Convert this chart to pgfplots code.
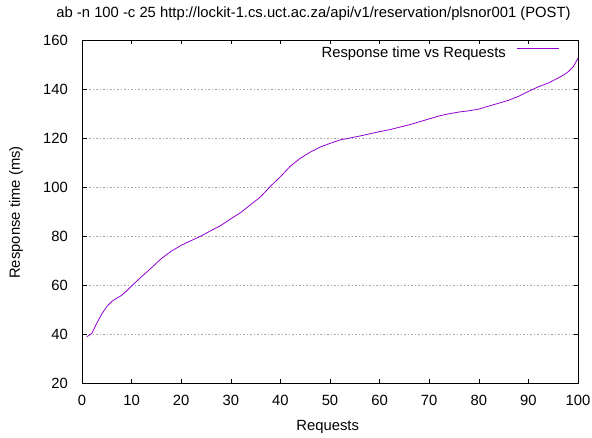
\documentclass[border=0pt]{standalone}
\usepackage{pgfplots}
\pgfplotsset{compat=1.18}
\usepackage{fontspec}
\setmainfont{Liberation Sans}
\definecolor{gpviolet}{HTML}{9400D3}
\begin{document}
\begin{tikzpicture}[font=\fontsize{14.8}{17.8}\selectfont]
\useasboundingbox (-82pt,-54pt) rectangle (510pt,383pt);
\begin{axis}[
  at={(0pt,0pt)}, anchor=south west,
  scale only axis, width=496pt, height=343pt,
  xmin=0, xmax=100, ymin=20, ymax=160,
  xtick={0,10,...,100}, ytick={20,40,...,160},
  /pgf/number format/assume math mode=true,
  tick align=inside, major tick length=4.5pt,
  xtick pos=both, ytick pos=both,
  tick style={black, line width=0.6pt},
  axis line style={black, line width=0.8pt},
  ymajorgrids,
  major grid style={gray!70, line width=0.6pt, dash pattern=on 1.5pt off 2pt},
  yticklabel style={anchor=east, inner sep=0pt, xshift=-14pt},
  xticklabel style={anchor=north, inner sep=0pt, yshift=-12pt},
  legend plot pos=right,
  legend cell align=right,
  legend style={draw=none, fill=none, inner sep=0pt, at={(1,1)}, anchor=north east,
    xshift=-18pt, yshift=-7pt, column sep=11pt, nodes={inner sep=0pt}},
  legend image code/.code={\draw[gpviolet, line width=0.9pt] (0pt,4.4pt) -- (42pt,4.4pt);},
]
\addplot[gpviolet, line width=0.8pt, no marks] coordinates {
(1,38.9) (2,40.3) (3,44.5) (4,48.2) (5,51.2) (6,53.3) (7,54.6) (8,55.8) (9,57.6)
(10,59.6) (12,63.4) (14,67.0) (16,70.8) (18,73.8) (20,76.2) (22,78.1) (24,80.0)
(26,82.2) (28,84.3) (30,87.0) (32,89.6) (34,92.8) (36,96.0) (38,100.3) (40,104.2)
(42,108.5) (44,111.7) (46,114.2) (48,116.3) (50,117.8) (52,119.2) (54,120.0)
(56,120.8) (58,121.7) (60,122.6) (62,123.4) (64,124.4) (66,125.4) (68,126.6)
(70,127.8) (72,129.0) (74,129.9) (76,130.6) (78,131.1) (80,131.8) (82,133.0)
(84,134.2) (86,135.4) (88,137.0) (90,139.0) (92,140.9) (94,142.4) (96,144.5)
(97,145.6) (98,147.0) (99,149.0) (100,152.5)
};
\addlegendentry{Response time vs Requests}
\end{axis}
\node[anchor=base, inner sep=0pt] at (231.5pt,365pt) {ab -n 100 -c 25 http://lockit-1.cs.uct.ac.za/api/v1/reservation/plsnor001 (POST)};
\node[anchor=base, inner sep=0pt] at (245.7pt,-47.5pt) {Requests};
\node[anchor=base, inner sep=0pt, rotate=90] at (-62pt,170.5pt) {Response time (ms)};
\end{tikzpicture}
\end{document}
